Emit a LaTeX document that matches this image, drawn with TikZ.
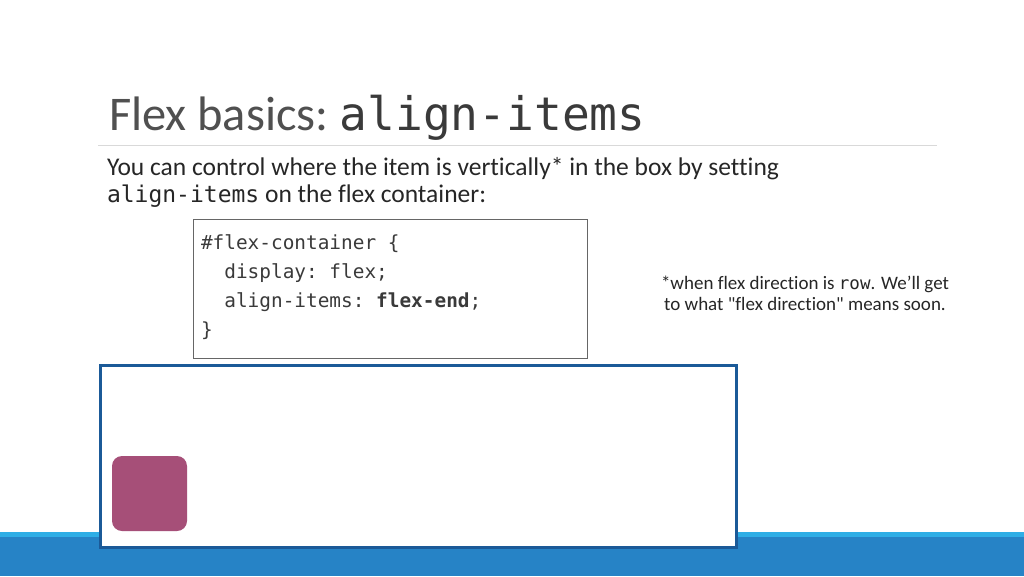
\documentclass[tikz,border=0pt]{standalone}
\usepackage{fontspec}
\setmainfont{Carlito}[Ligatures={NoCommon}]
\setmonofont{DejaVu Sans Mono}
\definecolor{titlegray}{HTML}{505050}
\definecolor{monotitle}{HTML}{3A3A3A}
\definecolor{bodytext}{HTML}{262626}
\definecolor{codetext}{HTML}{3A3A3A}
\definecolor{rulegray}{HTML}{D9D9D9}
\definecolor{boxblue}{HTML}{1B5A98}
\definecolor{barlight}{HTML}{2EAEE6}
\definecolor{bardark}{HTML}{2683C6}
\definecolor{itempink}{HTML}{A64F78}
\tikzset{
  txt/.style={inner sep=0pt, outer sep=0pt, anchor=base west},
  codeline/.style={txt, font=\fontsize{19.4}{22}\ttfamily, text=codetext},
  notetxt/.style={inner sep=0pt, anchor=base, font=\fontsize{19}{22}\selectfont, text=bodytext},
}
\begin{document}
\begin{tikzpicture}[x=1pt,y=-1pt]
\useasboundingbox (0,0) rectangle (1024,576);
\fill[white] (0,0) rectangle (1024,576);
% bottom bar
\fill[bardark] (0,532) rectangle (1024,576);
\fill[barlight] (0,532) rectangle (1024,537);
% title
\node[txt, text=titlegray] (title) at (109,130) {\fontsize{48.4}{52}\selectfont Flex basics:\hspace{11pt}\fontsize{46.2}{52}\ttfamily\color{monotitle}align-items};
\draw[rulegray, line width=1.2pt] (98,145.5) coordinate (ruleL) -- (937,145.5) coordinate (ruleR);
% body
\node[txt, text=bodytext, font=\fontsize{25.5}{28}\selectfont] (body1) at (107,175) {You can control where the item is vertically* in the box by setting};
\node[txt, text=bodytext, font=\fontsize{25.5}{28}\selectfont] (body2) at (107,202) {{\fontsize{23}{28}\ttfamily align-items} on the flex container:};
% code box
\draw[gray!80!black, line width=0.8pt] (193,219) rectangle (587,358);
\node[codeline] (c1) at (201,249) {\#flex-container \{};
\node[codeline] (c2) at (201,278) {\ \ display: flex;};
\node[codeline] (c3) at (201,307) {\ \ align-items: \textbf{flex-end};};
\node[codeline] (c4) at (201,336) {\}};
% note
\node[notetxt] (n1) at (805,289) {*when flex direction is {\fontsize{17.5}{22}\ttfamily row}. We'll get};
\node[notetxt] (n2) at (805,310) {to what \textquotedbl flex direction\textquotedbl{} means soon.};
% container
\draw[boxblue, line width=3pt, fill=white] (100,365.5) rectangle (736,547);
\fill[itempink, rounded corners=10pt] (112,456) rectangle (187,531);
\end{tikzpicture}
\end{document}
